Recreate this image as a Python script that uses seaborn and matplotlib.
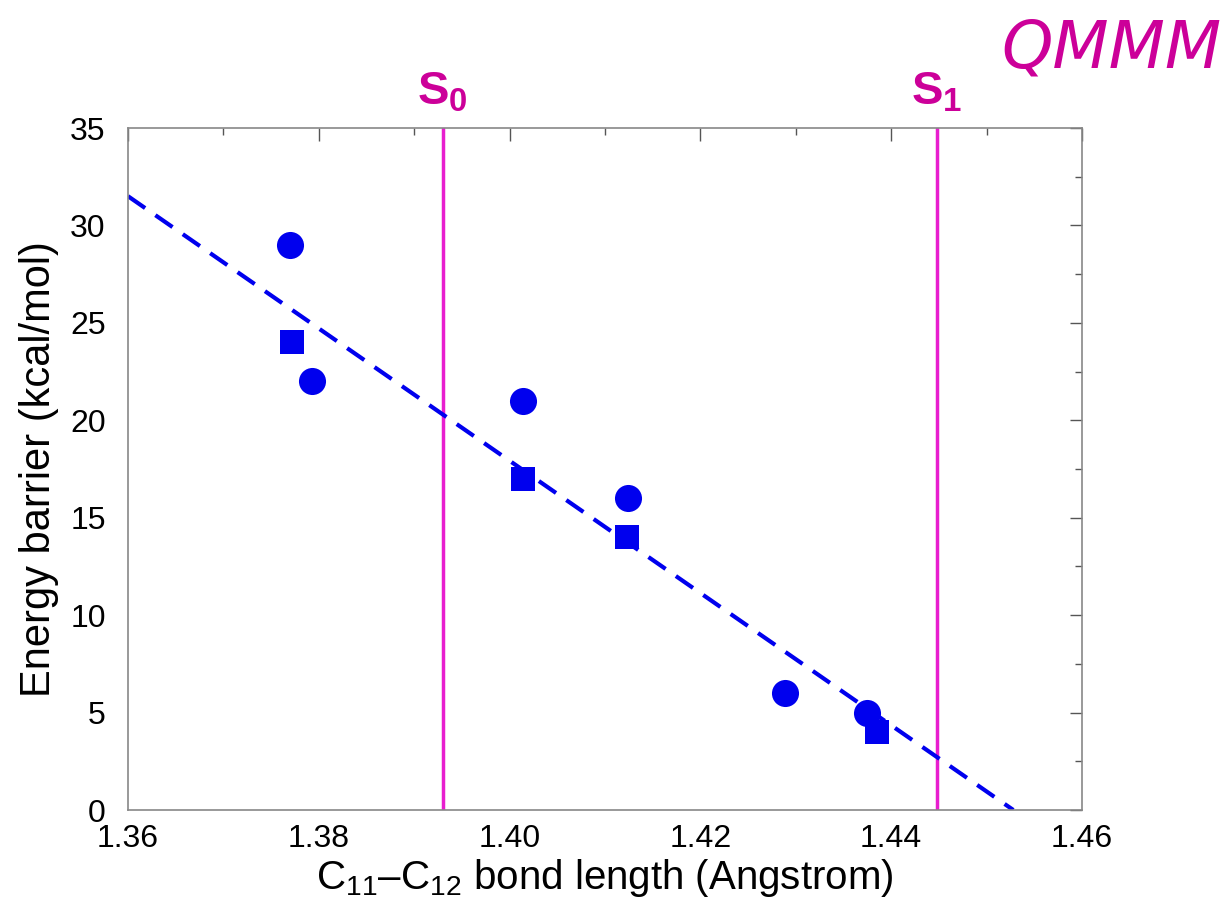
import matplotlib
matplotlib.use("Agg")
import matplotlib.pyplot as plt
import seaborn as sns
import pandas as pd
from matplotlib.ticker import MultipleLocator

sns.set_theme(style="white")
plt.rcParams['font.family'] = ['Liberation Sans', 'DejaVu Sans']
plt.rcParams['mathtext.fontset'] = 'custom'
plt.rcParams['mathtext.rm'] = 'Liberation Sans'
plt.rcParams['mathtext.it'] = 'Liberation Sans:italic'
plt.rcParams['mathtext.bf'] = 'Liberation Sans:bold'

# Data
circle_x = [1.3770, 1.3793, 1.4014, 1.4124, 1.4289, 1.4375]
circle_y = [29.0, 22.0, 21.0, 16.0, 6.0, 5.0]
square_x = [1.3772, 1.4014, 1.4123, 1.4385]
square_y = [24.0, 17.0, 14.0, 4.0]
fit_x = [1.36, 1.4528]
fit_y = [31.5, 0.0]
s0_x = 1.3930
s1_x = 1.4448
x_ticks = [1.36, 1.38, 1.40, 1.42, 1.44, 1.46]
x_ticklabels = ["1.36", "1.38", "1.40", "1.42", "1.44", "1.46"]
y_ticks = [0, 5, 10, 15, 20, 25, 30, 35]

blue = "#0000EE"
magenta_line = "#E81ECF"
magenta_text = "#CC0099"

fig = plt.figure(figsize=(12.27, 9.09), dpi=100)
ax = fig.add_axes([128 / 1227, 1 - 810 / 909, (1082 - 128) / 1227, (810 - 128) / 909])

df_c = pd.DataFrame({"x": circle_x, "y": circle_y})
df_s = pd.DataFrame({"x": square_x, "y": square_y})
df_f = pd.DataFrame({"x": fit_x, "y": fit_y})

sns.lineplot(data=df_f, x="x", y="y", ax=ax, color=blue, lw=3,
             linestyle=(0, (5, 3)), zorder=2)
ax.axvline(s0_x, color=magenta_line, lw=2.5, zorder=1)
ax.axvline(s1_x, color=magenta_line, lw=2.5, zorder=1)
sns.scatterplot(data=df_c, x="x", y="y", ax=ax, marker="o", s=380,
                color=blue, edgecolor=blue, linewidth=0, zorder=3)
sns.scatterplot(data=df_s, x="x", y="y", ax=ax, marker="s", s=320,
                color=blue, edgecolor=blue, linewidth=0, zorder=3)

ax.set_xlim(1.36, 1.46)
ax.set_ylim(0, 35)
ax.set_xticks(x_ticks)
ax.set_xticklabels(x_ticklabels)
ax.set_yticks(y_ticks)
ax.xaxis.set_minor_locator(MultipleLocator(0.01))
ax.yaxis.set_minor_locator(MultipleLocator(2.5))
ax.tick_params(which="both", direction="in", top=True, right=True,
               colors="#555555", labelcolor="black", labelsize=23, width=1)
ax.tick_params(which="major", length=9)
ax.tick_params(which="minor", length=5)
ax.tick_params(axis="x", which="major", pad=10)
ax.tick_params(axis="y", which="major", pad=16)
for sp in ax.spines.values():
    sp.set_color("#888888")
    sp.set_linewidth(1.2)

ax.set_xlabel(r"C$_{11}$–C$_{12}$ bond length (Angstrom)", fontsize=29,
              labelpad=2, color="black")
ax.set_ylabel("Energy barrier (kcal/mol)", fontsize=30, labelpad=8, color="black")

ax.text(s0_x, 1.02, r"S$_{\mathbf{0}}$", transform=ax.get_xaxis_transform(),
        ha="center", va="bottom", fontsize=34, fontweight="bold", color=magenta_text)
ax.text(s1_x, 1.02, r"S$_{\mathbf{1}}$", transform=ax.get_xaxis_transform(),
        ha="center", va="bottom", fontsize=34, fontweight="bold", color=magenta_text)
fig.text(0.906, 0.945, "QMMM", ha="center", va="center", fontsize=47,
         style="italic", color=magenta_text, family=["DejaVu Sans"])

fig.savefig("out.png", dpi=100)
